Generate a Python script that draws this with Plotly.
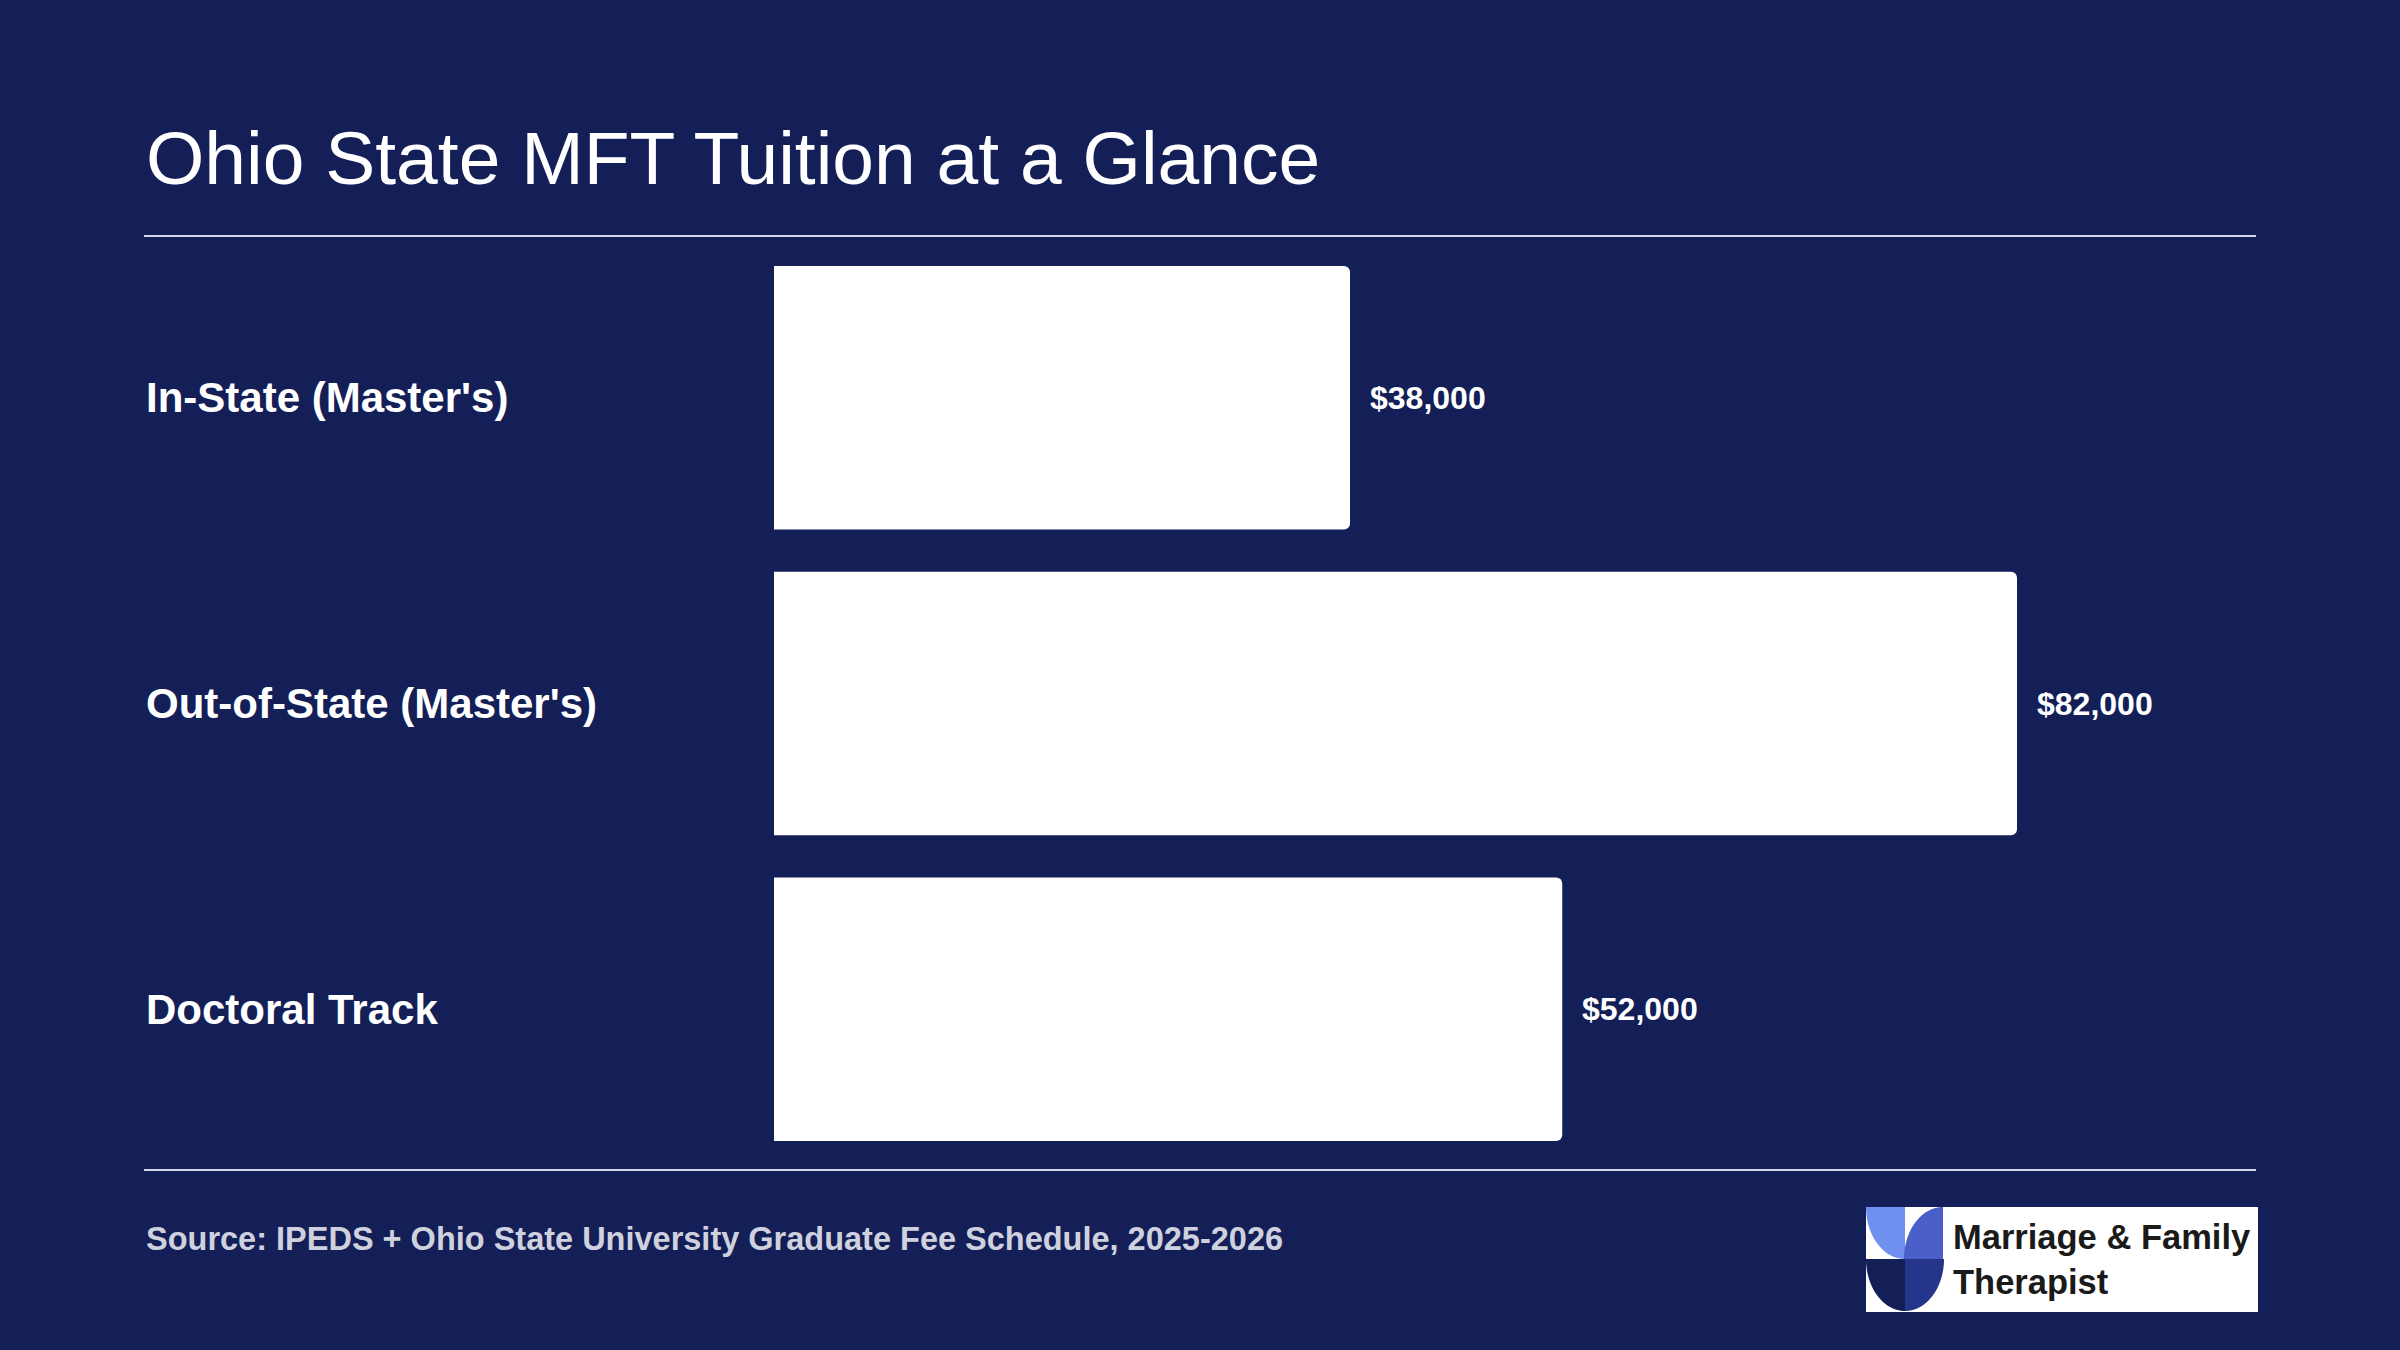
import math
import plotly.graph_objects as go

categories = ["In-State (Master's)", "Out-of-State (Master's)", "Doctoral Track"]
tuition = [38000, 82000, 52000]
value_labels = ["$38,000", "$82,000", "$52,000"]
title_text = "Ohio State MFT Tuition at a Glance"
source_text = "Source: IPEDS + Ohio State University Graduate Fee Schedule, 2025-2026"

W, H = 2400, 1350
BG = "#141f57"
FONT = "Liberation Sans, Arial, sans-serif"


def px(x):
    return x / W


def py(y):
    return 1 - y / H


fig = go.Figure(go.Bar(
    x=tuition, y=categories, orientation="h",
    marker=dict(color="white", line_width=0),
    hoverinfo="skip",
))

annotations = [
    dict(text=title_text, x=px(144), y=py(158), xref="paper", yref="paper",
         xanchor="left", yanchor="middle", showarrow=False,
         font=dict(size=75, color="white", family=FONT)),
    dict(text=source_text, x=px(144), y=py(1239), xref="paper", yref="paper",
         xanchor="left", yanchor="middle", showarrow=False,
         font=dict(size=32.5, color="#cfd2de", family=FONT, weight="bold")),
    dict(text="Marriage &amp; Family<br>Therapist", x=px(1951), y=py(1259), xref="paper", yref="paper",
         xanchor="left", yanchor="middle", showarrow=False, align="left",
         font=dict(size=34.5, color="#1a1a1a", family=FONT, weight="bold")),
]
for c, v, lab in zip(categories, tuition, value_labels):
    annotations.append(dict(text=c, x=px(144), y=c, xref="paper", yref="y",
                            xanchor="left", yanchor="middle", showarrow=False,
                            font=dict(size=42, color="white", family=FONT, weight="bold")))
    annotations.append(dict(text=lab, x=v, y=c, xref="x", yref="y", xshift=18,
                            xanchor="left", yanchor="middle", showarrow=False,
                            font=dict(size=32, color="white", family=FONT, weight="bold")))

shapes = [
    dict(type="line", xref="paper", yref="paper", x0=px(144), x1=px(2256), y0=py(236), y1=py(236),
         line=dict(color="#d5d8e6", width=2)),
    dict(type="line", xref="paper", yref="paper", x0=px(144), x1=px(2256), y0=py(1170), y1=py(1170),
         line=dict(color="#d5d8e6", width=2)),
    dict(type="rect", xref="paper", yref="paper", x0=px(1866), x1=px(2258), y0=py(1207), y1=py(1312),
         fillcolor="white", line_width=0),
]


def quarter(cx, cy, rx, ry, a0, a1, color):
    pts = [(cx, cy)]
    for i in range(25):
        a = math.radians(a0 + (a1 - a0) * i / 24)
        pts.append((cx + rx * math.cos(a), cy + ry * math.sin(a)))
    d = "M " + " L ".join(f"{px(x):.5f},{py(y):.5f}" for x, y in pts) + " Z"
    return dict(type="path", xref="paper", yref="paper", path=d, fillcolor=color, line_width=0)


x0, xm, x1 = 1866, 1905, 1943
y0, ym, y1 = 1207, 1259, 1312
rx, ry = xm - x0, ym - y0
shapes += [
    quarter(xm, y0, rx, ry, 90, 180, "#7090f0"),
    quarter(x1, ym, rx, ry, 180, 270, "#4a5fc9"),
    quarter(xm, ym, rx, ry, 90, 180, BG),
    quarter(xm, ym, rx, ry, 0, 90, "#25358a"),
]

fig.update_layout(
    width=W, height=H, paper_bgcolor=BG, plot_bgcolor=BG,
    margin=dict(l=0, r=0, t=0, b=0),
    showlegend=False, bargap=0.138, barcornerradius=6,
    xaxis=dict(domain=[px(774), 0.9], range=[0, 82000 * (2160 - 774) / (2017 - 774)],
               visible=False, fixedrange=True),
    yaxis=dict(domain=[py(1162), py(245)], range=[2.5, -0.5], categoryorder="array",
               categoryarray=categories, visible=False),
    annotations=annotations, shapes=shapes,
)

fig.write_html("out.html", config={"displayModeBar": False},
               post_script="document.body.style.margin='0';")
